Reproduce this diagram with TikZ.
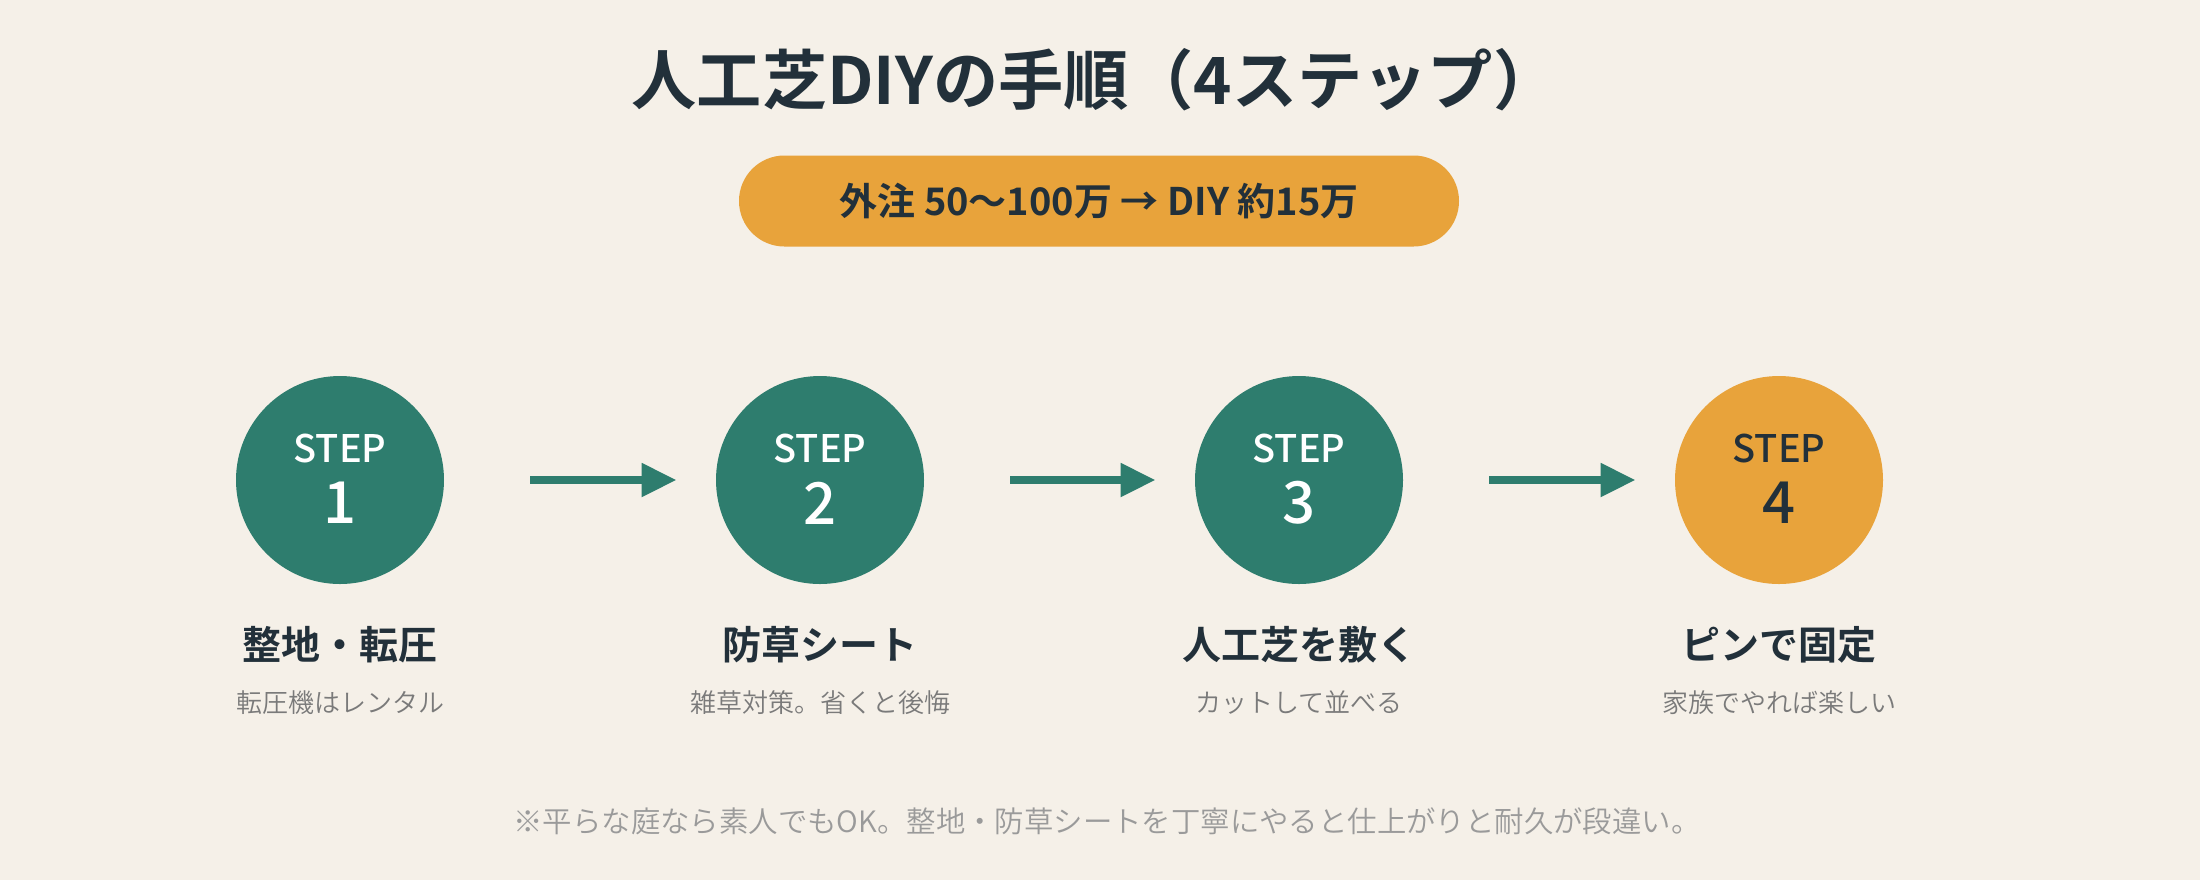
\documentclass[tikz,border=0pt]{standalone}
\usepackage{fontspec}
\setmainfont{Noto Sans CJK JP}[BoldFont={Noto Sans CJK JP Medium}]
\newfontfamily\jpheavy{Noto Sans CJK JP Bold}
\newfontfamily\jplight{Noto Sans CJK JP DemiLight}
\usetikzlibrary{arrows.meta}
\definecolor{bg}{HTML}{F5F0E8}
\definecolor{teal}{HTML}{2E7D6E}
\definecolor{amber}{HTML}{E8A33B}
\definecolor{ink}{HTML}{22303A}
\definecolor{sub}{HTML}{7A7A7A}
\definecolor{foot}{HTML}{9A9A9A}
\tikzset{
  stepcircle/.style={circle, minimum size=104pt, inner sep=0pt},
  steplabel/.style={font=\fontsize{19}{23}\selectfont\bfseries, inner sep=0pt},
  stepnum/.style={font=\fontsize{29}{34}\selectfont\bfseries, inner sep=0pt},
  steptitle/.style={font=\fontsize{19.5}{24}\selectfont\jpheavy, text=ink, inner sep=0pt},
  stepsub/.style={font=\fontsize{13}{16}\selectfont\jplight, text=sub, inner sep=0pt},
  flowarrow/.style={draw=teal, line width=4pt, -{Triangle[length=17.5pt,width=16pt]}},
}
\begin{document}
\begin{tikzpicture}[x=0.5pt,y=-0.5pt]
\fill[bg] (0,0) rectangle (2200,880);
\useasboundingbox (0,0) rectangle (2200,880);
\node[font=\fontsize{32.6}{38}\selectfont\jpheavy, text=ink, inner sep=0pt] (title) at (1095,80) {人工芝DIYの手順（4ステップ）};
\node[fill=amber, rounded corners=22.7pt, minimum width=360pt, minimum height=45.5pt, inner sep=0pt] (pill) at (1099,201) {};
\node[font=\fontsize{19}{23}\selectfont\jpheavy, text=ink, inner sep=0pt] (pilltext) at (pill.center) {外注 50〜100万 → DIY 約15万};
% circles
\node[stepcircle, fill=teal] (s1) at (340,480) {};
\node[stepcircle, fill=teal] (s2) at (820,480) {};
\node[stepcircle, fill=teal] (s3) at (1299,480) {};
\node[stepcircle, fill=amber] (s4) at (1779,480) {};
\node[steplabel, text=white] (l1) at (340,449) {STEP};
\node[stepnum, text=white] (n1) at (340,503) {1};
\node[steplabel, text=white] (l2) at (820,449) {STEP};
\node[stepnum, text=white] (n2) at (820,503) {2};
\node[steplabel, text=white] (l3) at (1299,449) {STEP};
\node[stepnum, text=white] (n3) at (1299,503) {3};
\node[steplabel, text=ink] (l4) at (1779,449) {STEP};
\node[stepnum, text=ink] (n4) at (1779,503) {4};
% arrows
\draw[flowarrow] ([xshift=43pt]s1.east) -- ([xshift=-19.5pt]s2.west);
\draw[flowarrow] ([xshift=43pt]s2.east) -- ([xshift=-19.5pt]s3.west);
\draw[flowarrow] ([xshift=43pt]s3.east) -- ([xshift=-19.5pt]s4.west);
% titles
\node[steptitle] (t1) at (340,645) {整地・転圧};
\node[steptitle] (t2) at (820,645) {防草シート};
\node[steptitle] (t3) at (1299,645) {人工芝を敷く};
\node[steptitle] (t4) at (1779,645) {ピンで固定};
\node[stepsub] (d1) at (340,703) {転圧機はレンタル};
\node[stepsub] (d2) at (820,703) {雑草対策。省くと後悔};
\node[stepsub] (d3) at (1299,703) {カットして並べる};
\node[stepsub] (d4) at (1779,703) {家族でやれば楽しい};
\node[font=\fontsize{14.7}{18}\selectfont\jplight, text=foot, inner sep=0pt] (foot) at (1107,821) {※平らな庭なら素人でもOK。整地・防草シートを丁寧にやると仕上がりと耐久が段違い。};
\end{tikzpicture}
\end{document}
